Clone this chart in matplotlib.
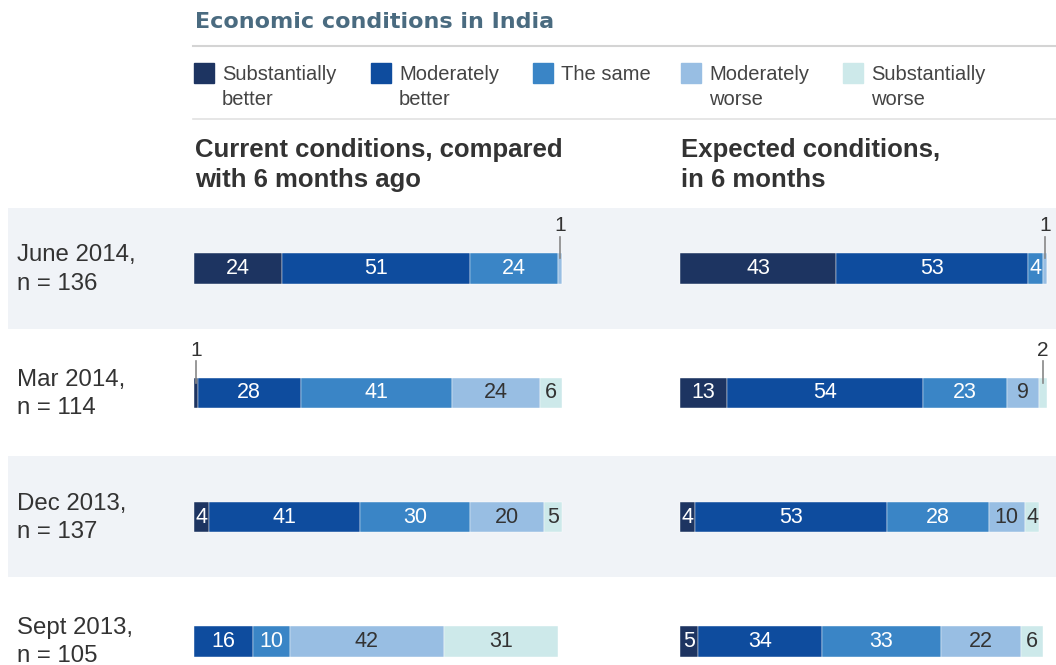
import matplotlib.pyplot as plt
from matplotlib.patches import Rectangle

plt.rcParams['font.family'] = ['Liberation Sans', 'DejaVu Sans']

W, H = 1056, 665

def fx(x):
    return x / W

def fy(y):
    return 1 - y / H

# data
periods = ['June 2014,\nn = 136', 'Mar 2014,\nn = 114', 'Dec 2013,\nn = 137', 'Sept 2013,\nn = 105']
categories = ['Substantially\nbetter', 'Moderately\nbetter', 'The same', 'Moderately\nworse', 'Substantially\nworse']
colors = ['#1d3461', '#0e4c9e', '#3a85c6', '#98bee3', '#cde9ea']
label_colors = ['white', 'white', 'white', '#333333', '#333333']

# rows: June 2014, Mar 2014, Dec 2013, Sept 2013; columns follow categories
current = [[24, 51, 24, 1, 0],
           [1, 28, 41, 24, 6],
           [4, 41, 30, 20, 5],
           [0, 16, 10, 42, 31]]
expected = [[43, 53, 4, 1, 0],
            [13, 54, 23, 9, 2],
            [4, 53, 28, 10, 4],
            [5, 34, 33, 22, 6]]

fig = plt.figure(figsize=(W / 100, H / 100), dpi=100)

# row geometry (pixels)
row0, step = 268.5, 124.3
top_px = row0 - step / 2
y_lo = (H - row0) / step
ylim = (y_lo, -0.5)
ax_h = (H - top_px) / H
bar_h = 0.245

# background bands
bg = fig.add_axes([fx(8), 0, 1 - fx(8), ax_h])
bg.set_xlim(0, 1)
bg.set_ylim(*ylim)
for i in range(len(periods)):
    if i % 2 == 0:
        bg.axhspan(i - 0.49, i + 0.485, color='#f0f3f7', lw=0)
bg.axis('off')

def draw_panel(ax, data):
    ys = list(range(len(data)))
    for j in range(len(categories)):
        vals = [row[j] for row in data]
        lefts = [sum(row[:j]) for row in data]
        bars = ax.barh(ys, vals, left=lefts, height=bar_h, color=colors[j],
                       edgecolor='white', linewidth=0.3)
        for b in bars:
            b.set_clip_on(False)
        for i, v in enumerate(vals):
            if v == 0:
                continue
            cx = lefts[i] + v / 2
            if v <= 2:
                top = i - bar_h / 2
                ax.plot([cx, cx], [top + 0.04, top - 0.13], color='#888888',
                        lw=1.2, clip_on=False)
                ax.text(cx, top - 0.145, str(v), ha='center', va='bottom',
                        fontsize=15, color='#333333')
            else:
                ax.text(cx, i, str(v), ha='center', va='center',
                        fontsize=15.5, color=label_colors[j])
    ax.set_xlim(0, 100)
    ax.set_ylim(*ylim)
    ax.axis('off')

ax1 = fig.add_axes([fx(194), 0, fx(368), ax_h])
ax1.patch.set_alpha(0)
draw_panel(ax1, current)

ax2 = fig.add_axes([fx(680), 0, fx(363), ax_h])
ax2.patch.set_alpha(0)
draw_panel(ax2, expected)

# row labels
for i, p in enumerate(periods):
    fig.text(fx(17), fy(row0 + 1 + i * step), p, ha='left', va='center',
             fontsize=17.3, color='#333333', linespacing=1.36)

# title and rules
fig.text(fx(195), fy(22), 'Economic conditions in India', fontsize=16,
         fontweight='bold', family='DejaVu Sans', color='#4a6b80',
         ha='left', va='center')
fig.add_artist(plt.Line2D([fx(193), 1], [fy(46), fy(46)], color='#d4d4d4', lw=1.5))
fig.add_artist(plt.Line2D([fx(193), 1], [fy(119), fy(119)], color='#e2e2e2', lw=1.2))

# legend
sq_x = [194, 371, 533, 681, 843]
for k, cat in enumerate(categories):
    fig.add_artist(Rectangle((fx(sq_x[k]), fy(83)), fx(20), 20 / H,
                             color=colors[k], transform=fig.transFigure))
    fig.text(fx(sq_x[k] + 28), fy(65), cat, ha='left', va='top',
             fontsize=14.5, color='#444444', linespacing=1.38)

# column headers
fig.text(fx(195), fy(138), 'Current conditions, compared\nwith 6 months ago',
         ha='left', va='top', fontsize=18.5, fontweight='bold', color='#333333',
         linespacing=1.3)
fig.text(fx(681), fy(138), 'Expected conditions,\nin 6 months',
         ha='left', va='top', fontsize=18.5, fontweight='bold', color='#333333',
         linespacing=1.3)

fig.savefig('out.png', dpi=100)
